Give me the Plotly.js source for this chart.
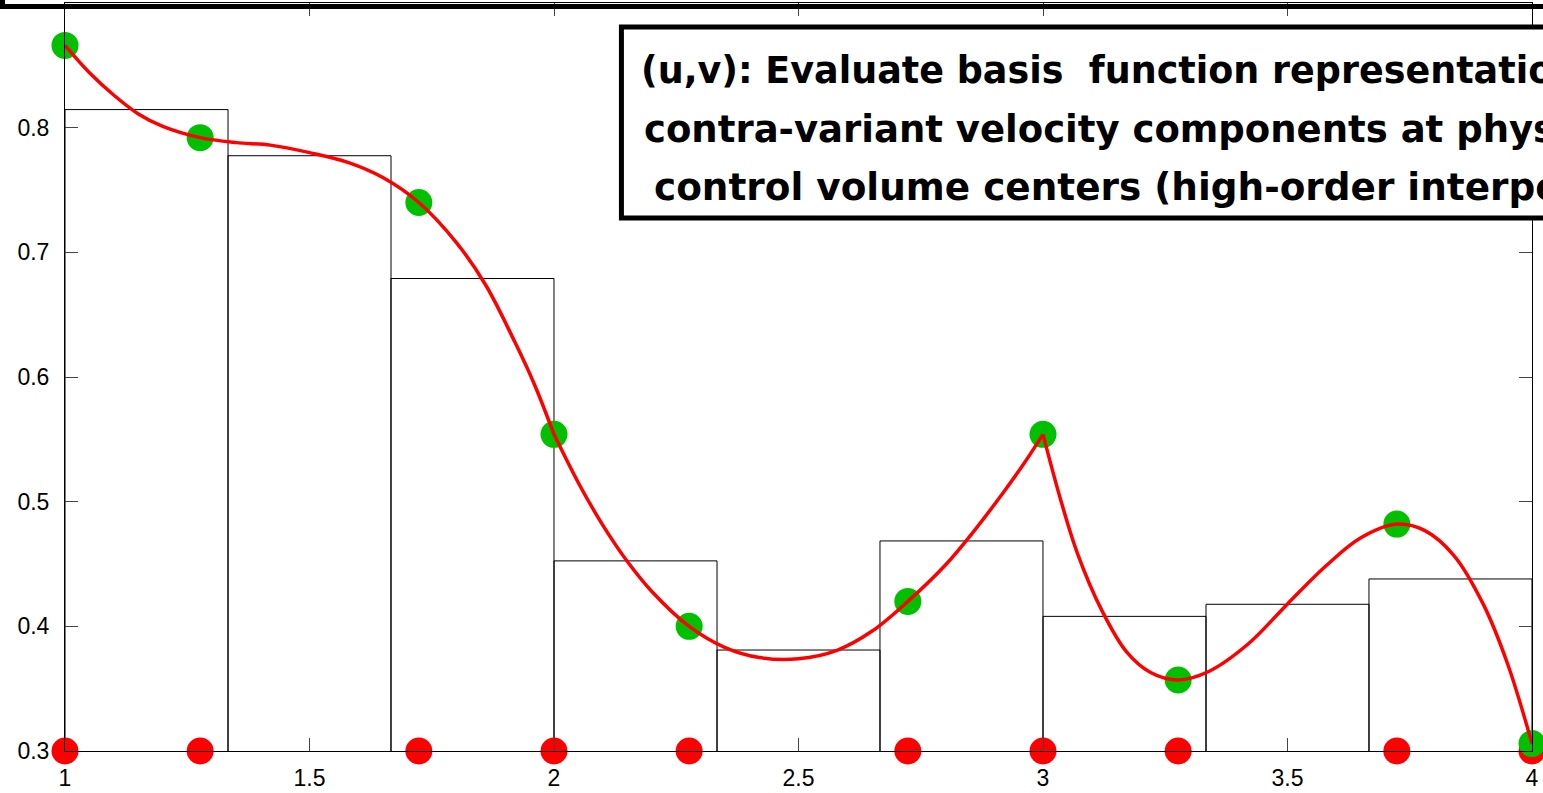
<!DOCTYPE html>
<html>
<head>
<meta charset="utf-8">
<script src="https://cdn.plot.ly/plotly-3.0.1.min.js"></script>
<style>html,body{margin:0;padding:0;background:#fff;}#chart{width:1543px;height:793px;}</style>
</head>
<body>
<div id="chart"></div>
<script>
// Cell (control volume) centers and cell-average values (the rectangles)
const cellCenters = [1.1667, 1.5, 1.8333, 2.1667, 2.5, 2.8333, 3.1667, 3.5, 3.8333];
const cellAverages = [0.8145, 0.7775, 0.679, 0.4525, 0.381, 0.4685, 0.408, 0.4177, 0.438];

// Solution points (Gauss-Lobatto nodes of the three elements)
const nodeX = [1, 1.2764, 1.7236, 2, 2.2764, 2.7236, 3, 3.2764, 3.7236, 4];
const nodeValues = [0.866, 0.792, 0.740, 0.554, 0.400, 0.420, 0.554, 0.357, 0.482, 0.306];
const nodeBase = [0.3, 0.3, 0.3, 0.3, 0.3, 0.3, 0.3, 0.3, 0.3, 0.3];

// Interpolating curve, one list per element
const curve1X = [1.0, 1.05, 1.1, 1.15, 1.2, 1.2764, 1.35, 1.42, 1.5, 1.58, 1.65, 1.7236, 1.8, 1.86, 1.92, 1.96, 2.0];
const curve1Y = [0.866, 0.844, 0.826, 0.811, 0.801, 0.792, 0.788, 0.786, 0.780, 0.772, 0.760, 0.740, 0.708, 0.674, 0.628, 0.594, 0.554];
const curve2X = [2.0, 2.05, 2.1, 2.15, 2.2, 2.2764, 2.35, 2.42, 2.5, 2.58, 2.65, 2.7236, 2.8, 2.86, 2.92, 2.96, 3.0];
const curve2Y = [0.554, 0.515, 0.481, 0.452, 0.428, 0.400, 0.383, 0.375, 0.374, 0.381, 0.396, 0.420, 0.449, 0.477, 0.508, 0.530, 0.554];
const curve3X = [3.0, 3.035, 3.07, 3.12, 3.17, 3.22, 3.2764, 3.34, 3.42, 3.5, 3.58, 3.65, 3.7236, 3.78, 3.84, 3.9, 3.95, 4.0];
const curve3Y = [0.554, 0.503, 0.459, 0.413, 0.380, 0.363, 0.357, 0.364, 0.386, 0.418, 0.449, 0.471, 0.482, 0.477, 0.457, 0.418, 0.370, 0.306];

// Tick labels
const xTickVals = [1, 1.5, 2, 2.5, 3, 3.5, 4];
const xTickText = ['1', '1.5', '2', '2.5', '3', '3.5', '4'];
const yTickVals = [0.3, 0.4, 0.5, 0.6, 0.7, 0.8, 0.9];
const yTickText = ['0.3', '0.4', '0.5', '0.6', '0.7', '0.8', '0.9'];

const noteLines = [
  '(u,v): Evaluate basis\u00a0 function representation of',
  'contra-variant velocity components at physical',
  'control volume centers (high-order interpolation)'
];

const RED = '#ff0000';
const GREEN = '#00c000';

const curveLine = {color: RED, width: 3.5, shape: 'spline', smoothing: 1};

const traces = [
  {
    type: 'bar', x: cellCenters, y: cellAverages, width: 1/3,
    marker: {color: 'rgba(0,0,0,0)', line: {color: '#000', width: 1}},
    hoverinfo: 'skip'
  },
  {
    type: 'scatter', mode: 'markers', x: nodeX, y: nodeBase, cliponaxis: false,
    marker: {color: RED, size: 27}
  },
  {
    type: 'scatter', mode: 'markers', x: nodeX, y: nodeValues, cliponaxis: false,
    marker: {color: GREEN, size: 27}
  },
  {type: 'scatter', mode: 'lines', x: curve1X, y: curve1Y, line: curveLine},
  {type: 'scatter', mode: 'lines', x: curve2X, y: curve2Y, line: curveLine},
  {type: 'scatter', mode: 'lines', x: curve3X, y: curve3Y, line: curveLine}
];

const tickFont = {family: 'Liberation Sans, Arial, Helvetica, sans-serif', size: 23, color: '#000'};
function noteFont(sz) {
  return {family: 'DejaVu Sans, sans-serif', size: sz, color: '#000', weight: 'bold'};
}

const axisCommon = {
  showgrid: false, zeroline: false, showline: true, linecolor: '#000', linewidth: 1,
  mirror: 'ticks', ticks: 'inside', ticklen: 13, tickwidth: 1, tickcolor: '#444',
  tickfont: tickFont, layer: 'above traces', tickmode: 'array', fixedrange: true
};

const layout = {
  width: 1543, height: 793,
  margin: {l: 65, r: 11, t: 3, b: 42, pad: 0},
  paper_bgcolor: '#fff', plot_bgcolor: '#fff',
  showlegend: false, barmode: 'overlay',
  xaxis: Object.assign({}, axisCommon, {range: [1, 4], tickvals: xTickVals, ticktext: xTickText, ticklabelstandoff: 6}),
  yaxis: Object.assign({}, axisCommon, {range: [0.3, 0.9], tickvals: yTickVals, ticktext: yTickText, ticklabelstandoff: 10}),
  shapes: [
    {type: 'rect', xref: 'paper', yref: 'paper', x0: -0.0426, x1: 1.2, y0: 0.9953, y1: 1.3,
     line: {color: '#000', width: 5}, fillcolor: 'rgba(0,0,0,0)', layer: 'above'},
    {type: 'rect', xref: 'paper', yref: 'paper', x0: 0.3793, x1: 1.2, y0: 0.7125, y1: 0.9679,
     line: {color: '#000', width: 5}, fillcolor: '#fff', layer: 'above'}
  ],
  annotations: [
    {xref: 'paper', yref: 'paper', x: 0.3911, y: 0.9098, xanchor: 'left', yanchor: 'middle', showarrow: false, text: noteLines[0], font: noteFont(36.5), align: 'left'},
    {xref: 'paper', yref: 'paper', x: 0.3931, y: 0.8309, xanchor: 'left', yanchor: 'middle', showarrow: false, text: noteLines[1], font: noteFont(37), align: 'left'},
    {xref: 'paper', yref: 'paper', x: 0.4004, y: 0.7534, xanchor: 'left', yanchor: 'middle', showarrow: false, text: noteLines[2], font: noteFont(37.4), align: 'left'}
  ]
};

Plotly.newPlot('chart', traces, layout, {displayModeBar: false, staticPlot: true});
</script>
</body>
</html>
